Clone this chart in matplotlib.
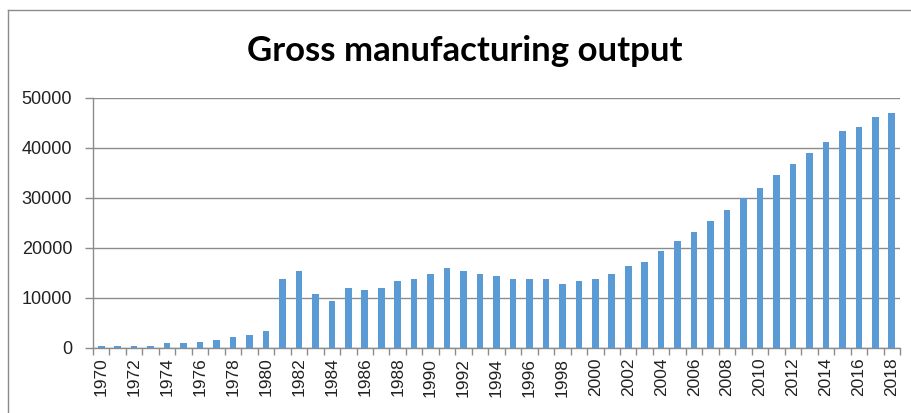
import numpy as np
import matplotlib.pyplot as plt
from matplotlib.lines import Line2D

# yearly gross manufacturing output
years = list(range(1970, 2019))
output = [400, 400, 400, 400, 1000, 1000, 1300, 1700, 2300, 2600,
          3500, 13900, 15500, 10800, 9500, 12000, 11700, 12000, 13500, 13900,
          14900, 16100, 15500, 14900, 14500, 13900, 13900, 13900, 12900, 13500,
          13900, 14900, 16400, 17300, 19500, 21400, 23300, 25500, 27700, 30000,
          32100, 34600, 36800, 39000, 41200, 43400, 44300, 46300, 47100]
yticks = [0, 10000, 20000, 30000, 40000, 50000]

bar_color = '#5B9BD5'
grid_color = '#8C8C8C'

fig = plt.figure(figsize=(9.11, 4.13), dpi=100)
ax = fig.add_axes([93/911, 1 - 348/413, 807/911, 250/413])

x = np.arange(len(years))
ax.bar(x, output, width=0.4, color=bar_color, zorder=3)

ax.set_xlim(-0.5, len(years) - 0.5)
ax.set_ylim(0, 50000)
ax.set_yticks(yticks)
ax.set_yticklabels([str(v) for v in yticks], fontsize=13, color='#222222',
                   family='Liberation Sans')
ax.yaxis.grid(True, color=grid_color, linewidth=1.0, zorder=0)

# labels every other year, tick marks between categories
ax.set_xticks(x[::2])
ax.set_xticklabels([str(y) for y in years[::2]], rotation=90, fontsize=12.5,
                   color='#222222', family='Liberation Sans')
ax.set_xticks(np.arange(len(years) + 1) - 0.5, minor=True)
ax.tick_params(axis='x', which='major', length=0, pad=7)
ax.tick_params(axis='x', which='minor', length=5, color=grid_color, width=1)
ax.tick_params(axis='y', length=6, color=grid_color, width=1, pad=9)

for s in ['top', 'right']:
    ax.spines[s].set_visible(False)
for s in ['left', 'bottom']:
    ax.spines[s].set_color(grid_color)
    ax.spines[s].set_linewidth(1)

fig.text(465/911, 1 - 61/413, 'Gross manufacturing output', ha='center',
         va='baseline', fontsize=25, fontweight='bold', family='Lato')

# chart frame
fig.add_artist(Line2D([8/911, 8/911], [0, 1 - 10/413], transform=fig.transFigure,
                      color=grid_color, linewidth=1))
fig.add_artist(Line2D([8/911, 1], [1 - 10/413, 1 - 10/413], transform=fig.transFigure,
                      color=grid_color, linewidth=1))

fig.savefig('out.png', dpi=100)
